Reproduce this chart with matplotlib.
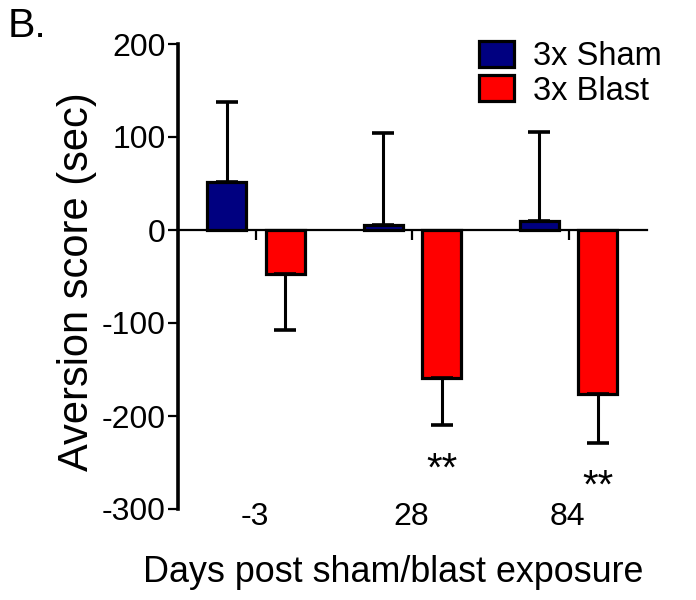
import numpy as np
import matplotlib
matplotlib.use("Agg")
import matplotlib.pyplot as plt

plt.rcParams['font.family'] = ['Liberation Sans', 'DejaVu Sans']
plt.rcParams['axes.unicode_minus'] = False

# Data (aversion score, sec)
days = ['-3', '28', '84']
sham_mean = [52, 5, 10]
sham_err = [86, 99, 95]
blast_mean = [-47, -159, -176]
blast_err = [61, 51, 53]
blast_sig = ['', '**', '**']

x = np.arange(len(days))
w = 0.25
off = 0.187

fig = plt.figure(figsize=(6.96, 6.0), dpi=100)
ax = fig.add_axes([178 / 696, 91 / 600, 468.7 / 696, 465 / 600])

# one-sided error bars (away from zero)
sham_yerr = [np.zeros(len(days)), sham_err]
blast_yerr = [blast_err, np.zeros(len(days))]

err_kw = dict(elinewidth=2.2, capthick=2.6, ecolor='black')
b1 = ax.bar(x - off, sham_mean, w, color='#000080', edgecolor='black', linewidth=2.3,
            yerr=sham_yerr, capsize=7.6, error_kw=err_kw, label='3x Sham', zorder=3)
b2 = ax.bar(x + off, blast_mean, w, color='#ff0000', edgecolor='black', linewidth=2.3,
            yerr=blast_yerr, capsize=7.6, error_kw=err_kw, label='3x Blast', zorder=3)

# significance stars under the blast bars
for i in range(len(days)):
    if blast_sig[i]:
        ax.text(x[i] + off, blast_mean[i] - blast_err[i] - 27, blast_sig[i],
                ha='center', va='top', fontsize=29)

ax.set_xlim(-0.5, 2.5)
ax.set_ylim(-300, 200)
ax.set_yticks([-300, -200, -100, 0, 100, 200])
ax.tick_params(axis='y', labelsize=23, length=7, width=1.6, pad=2)

# Prism style: x axis through zero, day labels at the bottom
ax.spines['top'].set_visible(False)
ax.spines['right'].set_visible(False)
ax.spines['left'].set_linewidth(2.6)
ax.spines['bottom'].set_position(('data', 0))
ax.spines['bottom'].set_linewidth(1.6)
ax.set_xticks(x)
ax.set_xticklabels(['', '', ''])
ax.tick_params(axis='x', length=7, width=1.6)
for i, d in enumerate(days):
    ax.text(x[i] - 0.01, -292, d, ha='center', va='top', fontsize=23)

ax.set_ylabel('Aversion score (sec)', fontsize=30)
ax.yaxis.set_label_coords(-0.173, 0.49)
ax.set_xlabel('Days post sham/blast exposure', fontsize=25.8)
ax.xaxis.set_label_coords(0.4587, -0.098)

ax.legend(handles=[b1, b2], loc='upper left', bbox_to_anchor=(479 / 696, 1 - 41 / 600),
          bbox_transform=fig.transFigure, frameon=False, fontsize=23.5,
          borderpad=0, borderaxespad=0, handlelength=1.08, handleheight=0.83,
          handletextpad=0.58, labelspacing=0.1)

fig.text(8 / 696, 1 - 7 / 600, 'B.', fontsize=29.5, ha='left', va='top')

fig.savefig('out.png', dpi=100)
